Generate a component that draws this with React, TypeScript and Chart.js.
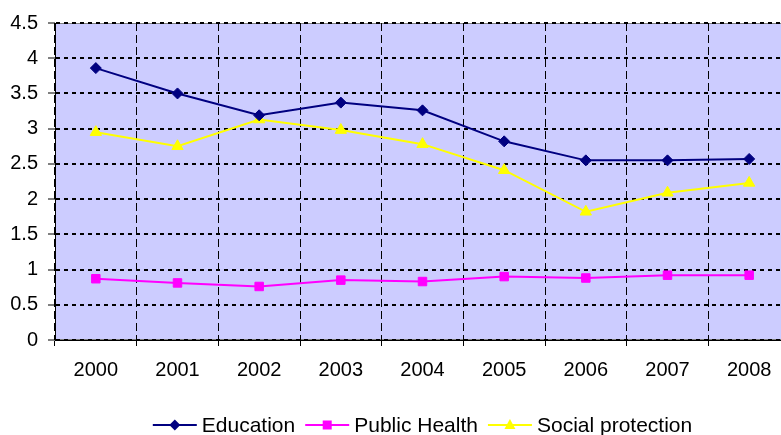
import React, { useEffect, useRef } from "react";
import { Chart, registerables } from "chart.js";

Chart.register(...registerables);

const years = ["2000", "2001", "2002", "2003", "2004", "2005", "2006", "2007", "2008"];
const education = [3.86, 3.5, 3.19, 3.37, 3.26, 2.82, 2.55, 2.55, 2.57];
const publicHealth = [0.87, 0.81, 0.76, 0.85, 0.83, 0.9, 0.88, 0.92, 0.92];
const socialProtection = [2.95, 2.75, 3.13, 2.98, 2.78, 2.41, 1.82, 2.09, 2.23];

const FONT = "'Liberation Sans', Arial, sans-serif";

const seriesInfo = [
  { label: "Education", color: "#000080", shape: "diamond" },
  { label: "Public Health", color: "#FF00FF", shape: "square" },
  { label: "Social protection", color: "#FFFF00", shape: "triangle" },
];

const bgPlugin = {
  id: "plotBg",
  beforeDraw(chart: any) {
    const { ctx, chartArea } = chart;
    ctx.save();
    ctx.fillStyle = "#CCCCFF";
    ctx.fillRect(chartArea.left, chartArea.top, chartArea.right - chartArea.left, chartArea.bottom - chartArea.top);
    ctx.strokeStyle = "#808080";
    ctx.lineWidth = 1;
    ctx.strokeRect(chartArea.left + 0.5, chartArea.top + 0.5, chartArea.right - chartArea.left - 1, chartArea.bottom - chartArea.top - 1);
    ctx.restore();
  },
};

const legendPlugin = {
  id: "customLegend",
  afterDraw(chart: any) {
    const { ctx, chartArea } = chart;
    ctx.save();
    ctx.font = `21px ${FONT}`;
    const lineLen = 44;
    const gapText = 5;
    const gapEntry = 10;
    const widths = seriesInfo.map((s) => ctx.measureText(s.label).width);
    const total = widths.reduce((a, b) => a + b, 0) + seriesInfo.length * (lineLen + gapText) + (seriesInfo.length - 1) * gapEntry;
    let x = (chartArea.left + chartArea.right) / 2 - total / 2;
    const y = 425;
    seriesInfo.forEach((s, i) => {
      ctx.strokeStyle = s.color;
      ctx.lineWidth = 2;
      ctx.beginPath();
      ctx.moveTo(x, y);
      ctx.lineTo(x + lineLen, y);
      ctx.stroke();
      const cx = x + lineLen / 2;
      ctx.fillStyle = s.color;
      ctx.beginPath();
      if (s.shape === "diamond") {
        ctx.moveTo(cx - 5.5, y);
        ctx.lineTo(cx, y - 5.5);
        ctx.lineTo(cx + 5.5, y);
        ctx.lineTo(cx, y + 5.5);
      } else if (s.shape === "square") {
        ctx.rect(cx - 4.5, y - 4.5, 9, 9);
      } else {
        ctx.moveTo(cx, y - 6);
        ctx.lineTo(cx + 5.5, y + 4);
        ctx.lineTo(cx - 5.5, y + 4);
      }
      ctx.closePath();
      ctx.fill();
      ctx.fillStyle = "#000000";
      ctx.textAlign = "left";
      ctx.textBaseline = "middle";
      ctx.fillText(s.label, x + lineLen + gapText, y + 1);
      x += lineLen + gapText + widths[i] + gapEntry;
    });
    ctx.restore();
  },
};

export default function App() {
  const ref = useRef<HTMLCanvasElement | null>(null);

  useEffect(() => {
    if (!ref.current) return;
    const chart = new Chart(ref.current, {
      type: "line",
      data: {
        labels: years,
        datasets: [
          {
            label: "Education",
            data: education,
            borderColor: "#000080",
            backgroundColor: "#000080",
            borderWidth: 2,
            pointStyle: "rectRot",
            pointRadius: 5.5,
            pointBorderWidth: 1,
            tension: 0,
          },
          {
            label: "Public Health",
            data: publicHealth,
            borderColor: "#FF00FF",
            backgroundColor: "#FF00FF",
            borderWidth: 2,
            pointStyle: "rect",
            pointRadius: 6,
            pointBorderWidth: 1,
            tension: 0,
          },
          {
            label: "Social protection",
            data: socialProtection,
            borderColor: "#FFFF00",
            backgroundColor: "#FFFF00",
            borderWidth: 2,
            pointStyle: "triangle",
            pointRadius: 6.5,
            pointBorderWidth: 1,
            tension: 0,
          },
        ],
      },
      options: {
        responsive: false,
        animation: false,
        layout: { padding: { top: 23, right: 10, left: 0, bottom: 0 } },
        plugins: {
          legend: { display: false },
          tooltip: { enabled: false },
          title: { display: false },
        },
        scales: {
          x: {
            type: "category",
            offset: true,
            grid: {
              offset: true,
              color: "#000000",
              lineWidth: 1,
              drawTicks: true,
              tickLength: 6,
              tickColor: "#000000",
              tickWidth: 1,
              tickBorderDash: [],
            },
            border: { display: true, color: "#000000", width: 1, dash: [8, 4] },
            ticks: {
              color: "#000000",
              font: { family: FONT, size: 20 },
              padding: 12,
              maxRotation: 0,
              autoSkip: false,
            },
            afterFit(scale: any) {
              scale.height = 95;
            },
          },
          y: {
            min: 0,
            max: 4.5,
            grid: {
              color: "#000000",
              lineWidth: 2,
              drawTicks: true,
              tickLength: 7,
              tickColor: "#000000",
              tickWidth: 1,
              tickBorderDash: [],
            },
            border: { display: true, color: "#000000", width: 1, dash: [4, 4] },
            ticks: {
              stepSize: 0.5,
              color: "#000000",
              font: { family: FONT, size: 20 },
              padding: 10,
              callback: (v: any) => String(v),
            },
            afterFit(scale: any) {
              scale.width = 55;
            },
          },
        },
      },
      plugins: [bgPlugin, legendPlugin],
    });
    return () => chart.destroy();
  }, []);

  return (
    <div style={{ position: "fixed", left: 0, top: 0, width: 781, height: 435, overflow: "hidden", background: "#ffffff" }}>
      <canvas ref={ref} width={800} height={435} style={{ display: "block", width: 800, height: 435 }} />
    </div>
  );
}
